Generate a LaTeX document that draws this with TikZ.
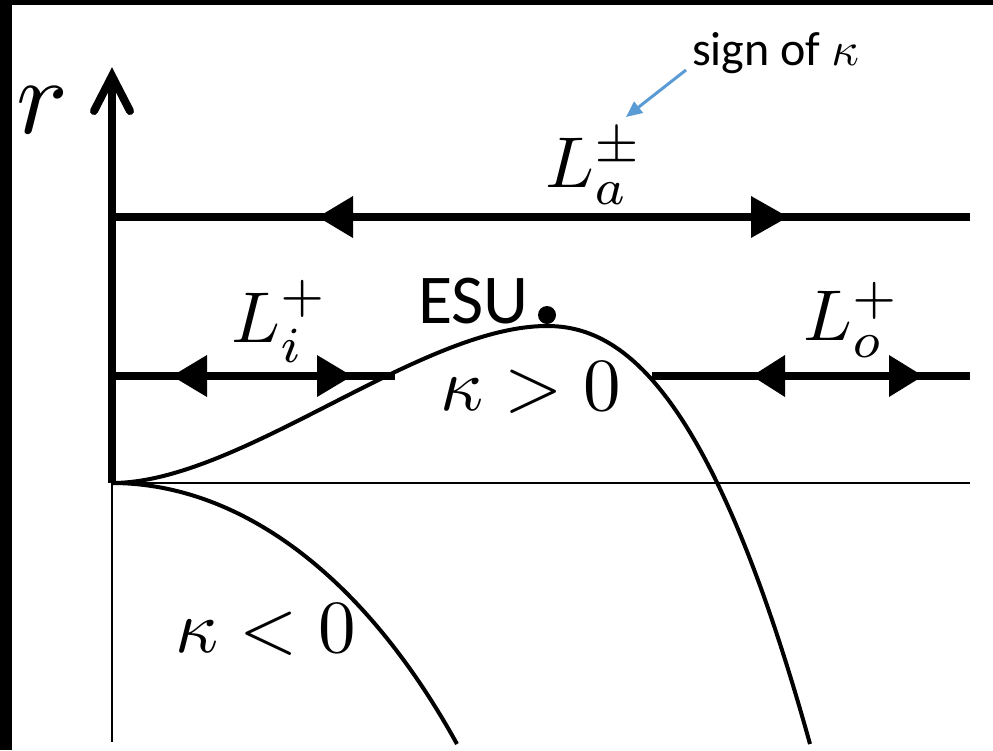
\documentclass[tikz,border=0pt]{standalone}
\usepackage{fontspec}
\newfontfamily\carlito{Carlito}
\usetikzlibrary{arrows.meta}
\definecolor{skyblue}{HTML}{5B9BD5}
\newcommand{\bigmath}[2]{\scalebox{#1}{\fontsize{10}{12}\selectfont$#2$}}
\begin{document}
\begin{tikzpicture}[x=1pt,y=-1pt,
  thickline/.style={line width=8pt},
  curveline/.style={line width=4pt},
  thinaxis/.style={line width=2.5pt},
  headfill/.style={fill=black},
  lab/.style={inner sep=0pt, anchor=base west}]
\useasboundingbox (0,0) rectangle (993,750);
\fill[white] (0,0) rectangle (993,750);
\fill[black] (0,0) rectangle (993,4.5);
\fill[black] (0,0) rectangle (12,750);

% coordinates
\coordinate (O) at (112,483);
\coordinate (Ytop) at (112,78);
\coordinate (Ybot) at (112,742);
\coordinate (Xend) at (970,483);
\coordinate (A0) at (112,217);
\coordinate (A1) at (970,217);
\coordinate (I0) at (112,376);
\coordinate (I1) at (395,376);
\coordinate (Q0) at (652,376);
\coordinate (Q1) at (970,376);

% thin axes
\draw[thinaxis] (O) -- (Xend);
\draw[thinaxis] (O) -- (Ybot);

% vertical axis with open arrow head
\draw[thickline] (O) -- (Ytop);
\draw[thickline, line cap=round, line join=miter] (Ytop) ++(-18,33) -- ++(18,-35) -- ++(18,35);

% L_a line
\draw[thickline] (A0) -- (A1);
\fill[headfill] (318,217) -- ++(35,-21) -- ++(0,42) -- cycle;
\fill[headfill] (788,217) -- ++(-37,-21) -- ++(0,42) -- cycle;

% L_i line
\draw[thickline] (I0) -- (I1);
\fill[headfill] (172,376) -- ++(35,-21) -- ++(0,42) -- cycle;
\fill[headfill] (352,376) -- ++(-35,-21) -- ++(0,42) -- cycle;

% L_o line
\draw[thickline] (Q0) -- (Q1);
\fill[headfill] (752,376) -- ++(33,-21) -- ++(0,42) -- cycle;
\fill[headfill] (923,376) -- ++(-34,-21) -- ++(0,42) -- cycle;

% curves
\coordinate (Peak) at (547,326);
\coordinate (Pend) at (810,744);
\coordinate (Nend) at (457,744);
\draw[curveline] (O) .. controls (240,483) and (420,326) .. (Peak)
   .. controls (620,326) and (710,384) .. (Pend);
\draw[curveline] (O) .. controls (230,483) and (357,563) .. (Nend);

% ESU point
\node[circle, fill=black, inner sep=0pt, minimum size=18pt] (esudot) at (547,315) {};
\node[lab, font=\carlito\fontsize{70}{80}\selectfont] (esu) at (418,323) {ESU};

% labels
\node[lab] (rlab) at (16,133) {\bigmath{10.8}{r}};
\node[lab] (La) at (545,187) {\bigmath{7.2}{L_a^{\pm}}};
\node[lab] (Li) at (231,342) {\bigmath{7.2}{L_i^{+}}};
\node[lab] (Lo) at (803,340) {\bigmath{7.2}{L_o^{+}}};
\node[lab] (kpos) at (440,410) {\bigmath{7.5}{\kappa>0}};
\node[lab] (kneg) at (175,652) {\bigmath{7.5}{\kappa<0}};

% annotation
\node[lab, font=\carlito\fontsize{48}{56}\selectfont] (sign) at (692,65) {sign of \bigmath{4.8}{\kappa}};
\coordinate (SignStart) at (686,70);
\coordinate (SignTip) at (626,117);
\draw[skyblue, line width=3pt, -{Triangle[length=16pt,width=14pt]}] (SignStart) -- (SignTip);
\end{tikzpicture}
\end{document}
